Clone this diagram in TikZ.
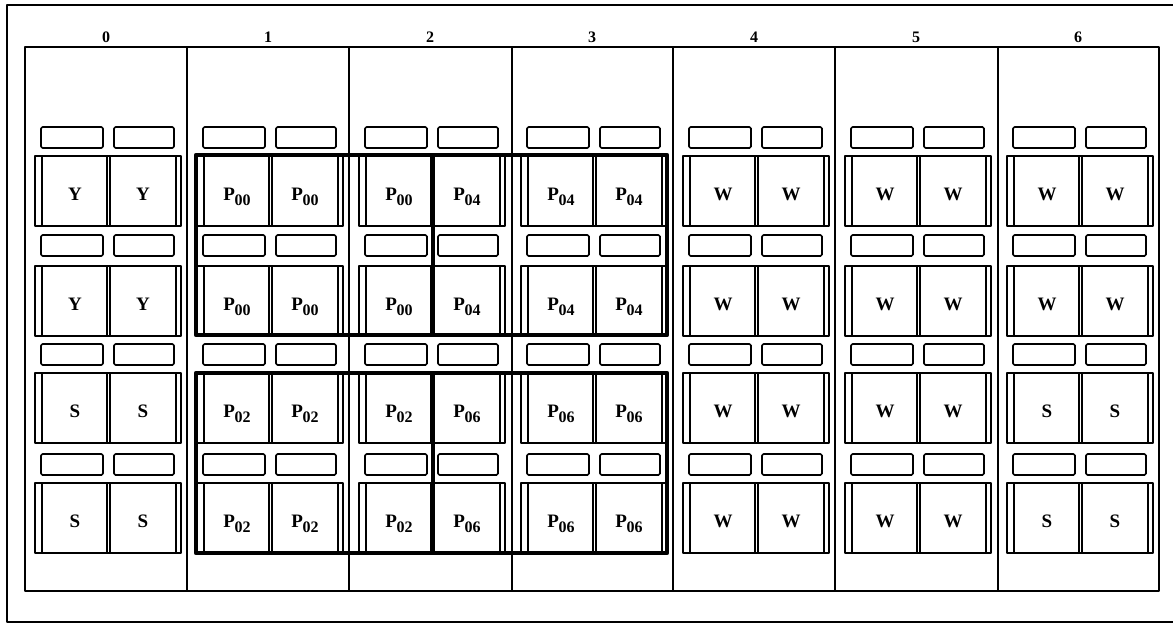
\documentclass[tikz,border=0pt]{standalone}
\usepackage{fontspec}
\setmainfont{Liberation Serif}
\newcommand\Psub[1]{P\kern-0.3pt\raisebox{-5.5pt}{\fontsize{16}{16}\selectfont #1}}
\newcommand\cardlbl[4]{%
  \pgfmathsetmacro\cx{25+162*#1}%
  \pgfmathsetmacro\cy{{156,266,373,483}[#2]+44}%
  \node[lbl] (t#1#2a) at (\cx+50,\cy) {#3};
  \node[lbl] (t#1#2b) at (\cx+118,\cy) {#4};}
\begin{document}
\begin{tikzpicture}[x=1pt,y=-1pt,line join=round,
  slotbox/.style={line width=1.7pt,rounded corners=1.5pt},
  cardbox/.style={line width=1.7pt},
  cardline/.style={line width=1.1pt},
  groupframe/.style={line width=4.5pt},
  colline/.style={line width=1.3pt},
  heavycol/.style={line width=2pt},
  lbl/.style={anchor=base,inner sep=0pt,font=\fontsize{19}{19}\selectfont\bfseries},
  numlbl/.style={anchor=base,inner sep=0pt,font=\fontsize{16}{16}\selectfont\bfseries}]
\fill[white] (0,0) rectangle (1173,626);
\useasboundingbox (0,0) rectangle (1173,626);
% outer frame
\draw[line width=2pt] (1173,5) -- (7,5) -- (7,622) -- (1173,622);
% inner frame
\draw[line width=2.2pt] (25,47) rectangle (1159,591);
% column separators
\draw[heavycol] (187,47) -- (187,591);
\draw[colline] (349,47) -- (349,591);
\draw[colline] (512,47) -- (512,591);
\draw[heavycol] (673,47) -- (673,591);
\draw[heavycol] (835,47) -- (835,591);
\draw[heavycol] (998,47) -- (998,591);
% columns
\foreach \i in {0,...,6}{
  \pgfmathsetmacro\x{25+162*\i}
  \node[numlbl] (n\i) at (\x+81,43) {\i};
  \foreach \st/\bt in {127/156,235/266,344/373,454/483}{
    \draw[slotbox] (\x+16,\st) rectangle (\x+78,\st+21);
    \draw[slotbox] (\x+89,\st) rectangle (\x+149,\st+21);
    \draw[cardbox] (\x+10,\bt) rectangle (\x+156,\bt+70);
    \draw[cardline] (\x+17,\bt) -- (\x+17,\bt+70);
    \draw[cardline] (\x+82,\bt) -- (\x+82,\bt+70);
    \draw[cardline] (\x+85,\bt) -- (\x+85,\bt+70);
    \draw[cardline] (\x+151,\bt) -- (\x+151,\bt+70);
  }
}
% group frames
\draw[groupframe] (196,155) rectangle (667,335);
\draw[groupframe] (196,373) rectangle (667,553);
\draw[groupframe] (433,155) -- (433,335);
\draw[groupframe] (433,373) -- (433,553);
% labels
\cardlbl{0}{0}{Y}{Y}
\cardlbl{0}{1}{Y}{Y}
\cardlbl{0}{2}{S}{S}
\cardlbl{0}{3}{S}{S}
\cardlbl{1}{0}{\Psub{00}}{\Psub{00}}
\cardlbl{1}{1}{\Psub{00}}{\Psub{00}}
\cardlbl{1}{2}{\Psub{02}}{\Psub{02}}
\cardlbl{1}{3}{\Psub{02}}{\Psub{02}}
\cardlbl{2}{0}{\Psub{00}}{\Psub{04}}
\cardlbl{2}{1}{\Psub{00}}{\Psub{04}}
\cardlbl{2}{2}{\Psub{02}}{\Psub{06}}
\cardlbl{2}{3}{\Psub{02}}{\Psub{06}}
\cardlbl{3}{0}{\Psub{04}}{\Psub{04}}
\cardlbl{3}{1}{\Psub{04}}{\Psub{04}}
\cardlbl{3}{2}{\Psub{06}}{\Psub{06}}
\cardlbl{3}{3}{\Psub{06}}{\Psub{06}}
\cardlbl{4}{0}{W}{W}
\cardlbl{4}{1}{W}{W}
\cardlbl{4}{2}{W}{W}
\cardlbl{4}{3}{W}{W}
\cardlbl{5}{0}{W}{W}
\cardlbl{5}{1}{W}{W}
\cardlbl{5}{2}{W}{W}
\cardlbl{5}{3}{W}{W}
\cardlbl{6}{0}{W}{W}
\cardlbl{6}{1}{W}{W}
\cardlbl{6}{2}{S}{S}
\cardlbl{6}{3}{S}{S}
\end{tikzpicture}
\end{document}
